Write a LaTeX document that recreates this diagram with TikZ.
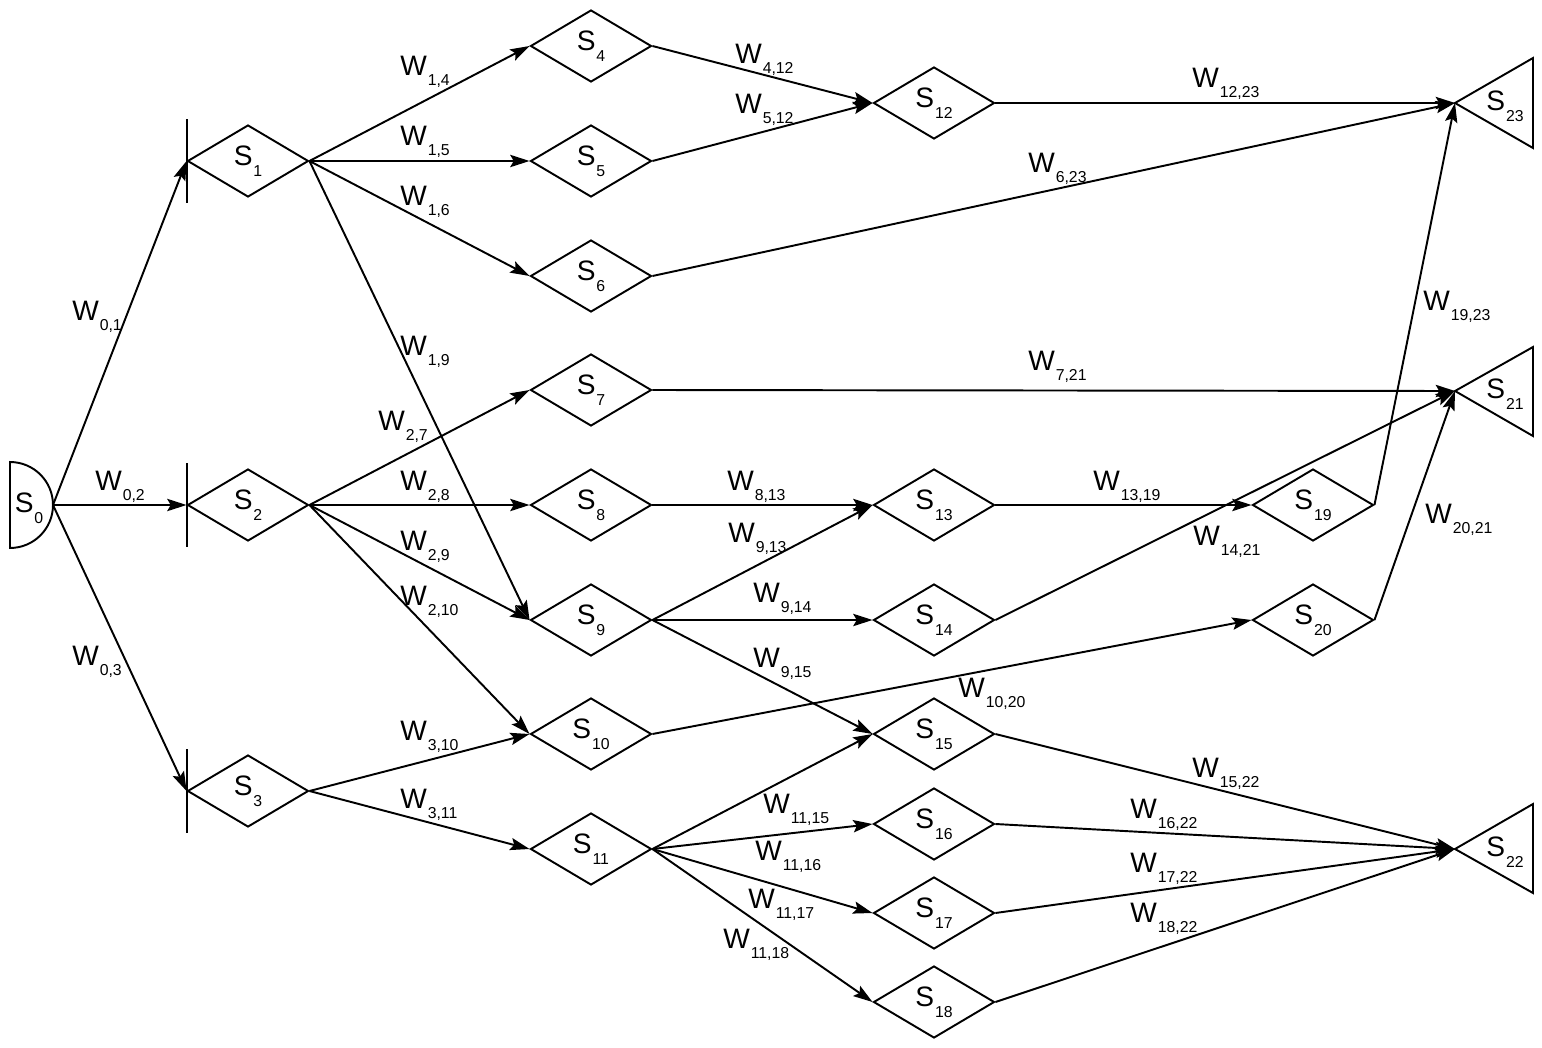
\documentclass[tikz,border=0pt]{standalone}
\usepackage{fontspec}
\setmainfont{Liberation Sans}
\usetikzlibrary{arrows.meta,shapes.geometric}
\newcommand{\lowix}[1]{\kern0.5pt\raisebox{-0.38em}{\fontsize{9pt}{10pt}\selectfont #1}}
\newcommand{\sname}[1]{S\lowix{#1}}
\newcommand{\wname}[1]{W\lowix{#1}}
\tikzset{
	state/.style={diamond, draw, line width=1.1pt, minimum width=2.42cm, minimum height=1.44cm, inner sep=0pt, font=\fontsize{16pt}{19pt}\selectfont},
	wire/.style={line width=1.1pt, -{Stealth[length=11pt,width=7pt,inset=2pt]}},
	wlab/.style={anchor=base west, inner sep=0pt, font=\fontsize{16pt}{19pt}\selectfont},
	tname/.style={inner sep=0pt, font=\fontsize{16pt}{19pt}\selectfont}
}
\begin{document}
\begin{tikzpicture}[x=0.02cm, y=-0.02cm]
			%%%%% START %%%%%
			\useasboundingbox (0,0) rectangle (1542,1048);
			
			% source
			\coordinate (s0) at (53,505);
			\draw[line width=1.1pt] (10,462) arc[start angle=90, end angle=-90, radius=0.86cm] -- cycle;
			\node[tname] (t0) at (29,508) {\sname{0}};
			
			% states
			\node[state] (s1) at (248,161) {\sname{1}};
			\node[state] (s2) at (248,505) {\sname{2}};
			\node[state] (s3) at (248,791) {\sname{3}};
			\draw[line width=1.1pt] (s1.west) ++(0,-42) -- ++(0,84);
			\draw[line width=1.1pt] (s2.west) ++(0,-42) -- ++(0,84);
			\draw[line width=1.1pt] (s3.west) ++(0,-42) -- ++(0,84);
			
			\node[state] (s4) at (591,46) {\sname{4}};
			\node[state] (s5) at (591,161) {\sname{5}};
			\node[state] (s6) at (591,276) {\sname{6}};
			\node[state] (s7) at (591,390) {\sname{7}};
			\node[state] (s8) at (591,505) {\sname{8}};
			\node[state] (s9) at (591,620) {\sname{9}};
			\node[state] (s10) at (591,734) {\sname{10}};
			\node[state] (s11) at (591,849) {\sname{11}};
			
			\node[state] (s12) at (934,103) {\sname{12}};
			\node[state] (s13) at (934,505) {\sname{13}};
			\node[state] (s14) at (934,620) {\sname{14}};
			\node[state] (s15) at (934,734) {\sname{15}};
			\node[state] (s16) at (934,824) {\sname{16}};
			\node[state] (s17) at (934,913) {\sname{17}};
			\node[state] (s18) at (934,1002) {\sname{18}};
			
			\node[state] (s19) at (1313,505) {\sname{19}};
			\node[state] (s20) at (1313,620) {\sname{20}};
			
			% sinks
			\coordinate (s23) at (1455,103);
			\draw[line width=1.1pt] (s23) -- ++(78,-45) -- ++(0,90) -- cycle;
			\node[tname] (t23) at (1505,106) {\sname{23}};
			\coordinate (s21) at (1455,391);
			\draw[line width=1.1pt] (s21) -- ++(78,-44) -- ++(0,89) -- cycle;
			\node[tname] (t21) at (1505,394) {\sname{21}};
			\coordinate (s22) at (1455,849);
			\draw[line width=1.1pt] (s22) -- ++(78,-45) -- ++(0,89) -- cycle;
			\node[tname] (t22) at (1505,852) {\sname{22}};
			
			% transitions
			\draw[wire] (s0) -- (s1.west);
			\draw[wire] (s0) -- (s2.west);
			\draw[wire] (s0) -- (s3.west);
			\draw[wire] (s1.east) -- (s4.west);
			\draw[wire] (s1.east) -- (s5.west);
			\draw[wire] (s1.east) -- (s6.west);
			\draw[wire] (s1.east) -- (s9.west);
			\draw[wire] (s2.east) -- (s7.west);
			\draw[wire] (s2.east) -- (s8.west);
			\draw[wire] (s2.east) -- (s9.west);
			\draw[wire] (s2.east) -- (s10.west);
			\draw[wire] (s3.east) -- (s10.west);
			\draw[wire] (s3.east) -- (s11.west);
			\draw[wire] (s4.east) -- (s12.west);
			\draw[wire] (s5.east) -- (s12.west);
			\draw[wire] (s6.east) -- (s23);
			\draw[wire] (s7.east) -- (s21);
			\draw[wire] (s8.east) -- (s13.west);
			\draw[wire] (s9.east) -- (s13.west);
			\draw[wire] (s9.east) -- (s14.west);
			\draw[wire] (s9.east) -- (s15.west);
			\draw[wire] (s10.east) -- (s20.west);
			\draw[wire] (s11.east) -- (s15.west);
			\draw[wire] (s11.east) -- (s16.west);
			\draw[wire] (s11.east) -- (s17.west);
			\draw[wire] (s11.east) -- (s18.west);
			\draw[wire] (s12.east) -- (s23);
			\draw[wire] (s13.east) -- (s19.west);
			\draw[wire] (s14.east) -- (s21);
			\draw[wire] (s15.east) -- (s22);
			\draw[wire] (s16.east) -- (s22);
			\draw[wire] (s17.east) -- (s22);
			\draw[wire] (s18.east) -- (s22);
			\draw[wire] (s19.east) -- (s23);
			\draw[wire] (s20.east) -- (s21);
			
			% weights
			\node[wlab] (w01) at (72,320) {\wname{0,1}};
			\node[wlab] (w02) at (95,490) {\wname{0,2}};
			\node[wlab] (w03) at (72,665) {\wname{0,3}};
			\node[wlab] (w14) at (400,75) {\wname{1,4}};
			\node[wlab] (w15) at (400,145) {\wname{1,5}};
			\node[wlab] (w16) at (400,205) {\wname{1,6}};
			\node[wlab] (w19) at (400,355) {\wname{1,9}};
			\node[wlab] (w27) at (378,430) {\wname{2,7}};
			\node[wlab] (w28) at (400,490) {\wname{2,8}};
			\node[wlab] (w29) at (400,550) {\wname{2,9}};
			\node[wlab] (w210) at (400,605) {\wname{2,10}};
			\node[wlab] (w310) at (400,740) {\wname{3,10}};
			\node[wlab] (w311) at (400,808) {\wname{3,11}};
			\node[wlab] (w412) at (735,63) {\wname{4,12}};
			\node[wlab] (w512) at (735,113) {\wname{5,12}};
			\node[wlab] (w623) at (1028,172) {\wname{6,23}};
			\node[wlab] (w721) at (1028,370) {\wname{7,21}};
			\node[wlab] (w813) at (727,490) {\wname{8,13}};
			\node[wlab] (w913) at (728,542) {\wname{9,13}};
			\node[wlab] (w914) at (753,602) {\wname{9,14}};
			\node[wlab] (w915) at (753,667) {\wname{9,15}};
			\node[wlab] (w1020) at (958,697) {\wname{10,20}};
			\node[wlab] (w1115) at (763,813) {\wname{11,15}};
			\node[wlab] (w1116) at (755,860) {\wname{11,16}};
			\node[wlab] (w1117) at (748,908) {\wname{11,17}};
			\node[wlab] (w1118) at (723,948) {\wname{11,18}};
			\node[wlab] (w1223) at (1192,87) {\wname{12,23}};
			\node[wlab] (w1319) at (1093,490) {\wname{13,19}};
			\node[wlab] (w1421) at (1193,545) {\wname{14,21}};
			\node[wlab] (w1522) at (1192,777) {\wname{15,22}};
			\node[wlab] (w1622) at (1130,818) {\wname{16,22}};
			\node[wlab] (w1722) at (1130,872) {\wname{17,22}};
			\node[wlab] (w1822) at (1130,922) {\wname{18,22}};
			\node[wlab] (w1923) at (1423,310) {\wname{19,23}};
			\node[wlab] (w2021) at (1425,523) {\wname{20,21}};
			
			%%%%% END %%%%%
\end{tikzpicture}
\end{document}
